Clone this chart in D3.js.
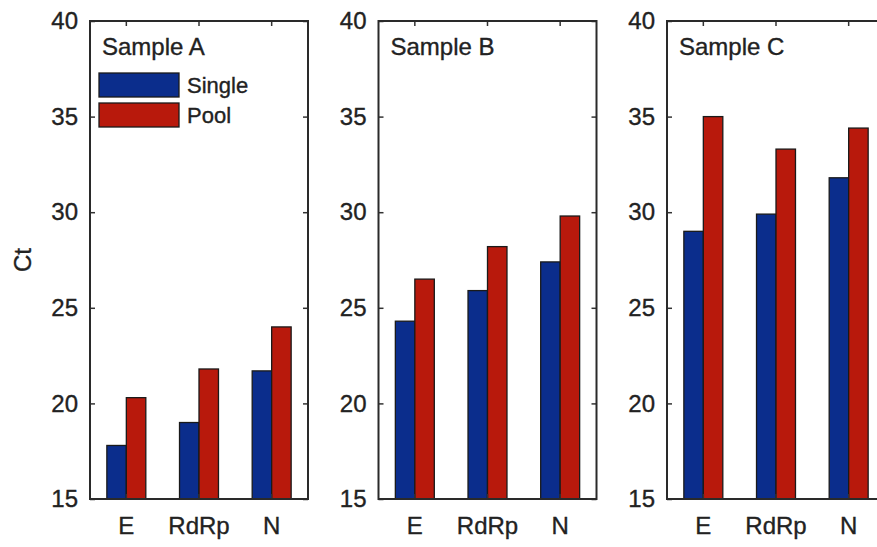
<!DOCTYPE html>
<html>
<head>
<meta charset="utf-8">
<script src="https://cdn.jsdelivr.net/npm/d3@7"></script>
<style>
  body { margin: 0; background: #fff; }
  svg text { font-family: "Liberation Sans", Arial, sans-serif; fill: #222; stroke: #222; stroke-width: 0.35px; }
</style>
</head>
<body>
<svg width="877" height="547"></svg>
<script>
// chart data
var categories = ["E", "RdRp", "N"];
var samples = ["Sample A", "Sample B", "Sample C"];
var series = ["Single", "Pool"];
var singleCt = [[17.8, 19.0, 21.7], [24.3, 25.9, 27.4], [29.0, 29.9, 31.8]];
var poolCt = [[20.3, 21.8, 24.0], [26.5, 28.2, 29.8], [35.0, 33.3, 34.4]];
var yTicks = [15, 20, 25, 30, 35, 40];

var colors = { Single: "#0b2d8c", Pool: "#b8190c" };

var svg = d3.select("svg");

// note: "top" is taken by window.top, so plotTop
var plotTop = 21, plotBottom = 499, panelW = 218, panelStep = 288.5, left0 = 90;

var y = d3.scaleLinear().domain([15, 40]).range([plotBottom, plotTop]);
var x = d3.scaleBand().domain(categories).range([0, panelW]).padding(0);
var xs = d3.scaleBand().domain(series).range([0, x.bandwidth()]).paddingInner(0).paddingOuter(0.865);

samples.forEach(function(name, p) {
    var g = svg.append("g").attr("transform", "translate(" + (left0 + p * panelStep) + ",0)");

    var rows = categories.map(function(c, i) {
        return { cat: c, Single: singleCt[p][i], Pool: poolCt[p][i] };
    });

    var groups = g.selectAll(".grp")
        .data(rows)
        .enter()
        .append("g")
        .attr("class", "grp")
        .attr("transform", function(d) { return "translate(" + x(d.cat) + ",0)"; });

    groups.selectAll("rect")
        .data(function(d) { return series.map(function(s) { return { s: s, v: d[s] }; }); })
        .enter()
        .append("rect")
        .attr("x", function(d) { return xs(d.s); })
        .attr("width", xs.bandwidth())
        .attr("y", function(d) { return y(d.v); })
        .attr("height", function(d) { return plotBottom - y(d.v); })
        .attr("fill", function(d) { return colors[d.s]; })
        .attr("stroke", "#1a1a1a")
        .attr("stroke-width", 1.3);

    // axes: ticks point inward like the box style
    var left = g.append("g")
        .call(d3.axisLeft(y).tickValues(yTicks).tickSizeInner(-5).tickSizeOuter(0).tickPadding(12));
    var right = g.append("g").attr("transform", "translate(" + panelW + ",0)")
        .call(d3.axisRight(y).tickValues(yTicks).tickSizeInner(-5).tickSizeOuter(0).tickFormat(""));
    var topAx = g.append("g").attr("transform", "translate(0," + plotTop + ")")
        .call(d3.axisTop(x).tickSizeInner(-5).tickSizeOuter(0).tickFormat(""));
    var botAx = g.append("g").attr("transform", "translate(0," + plotBottom + ")")
        .call(d3.axisBottom(x).tickSizeInner(-5).tickSizeOuter(0).tickPadding(18));

    [left, right, topAx, botAx].forEach(function(a) {
        a.select(".domain").remove();
        a.selectAll("line").attr("stroke", "#333").attr("stroke-width", 1.5);
        a.selectAll("text").attr("font-size", 24).attr("fill", "#222");
    });

    g.append("rect")
        .attr("x", 0).attr("y", plotTop)
        .attr("width", panelW).attr("height", plotBottom - plotTop)
        .attr("fill", "none")
        .attr("stroke", "#2a2a2a")
        .attr("stroke-width", 2);

    g.append("text")
        .attr("x", 12)
        .attr("y", 55)
        .attr("font-size", 24)
        .text(name);

    if (p == 0) {
        var leg = g.selectAll(".leg")
            .data(series)
            .enter()
            .append("g")
            .attr("class", "leg")
            .attr("transform", function(d, i) { return "translate(9," + (73 + i * 30) + ")"; });
        leg.append("rect")
            .attr("width", 80)
            .attr("height", 24)
            .attr("fill", function(d) { return colors[d]; })
            .attr("stroke", "#1a1a1a")
            .attr("stroke-width", 1.3);
        leg.append("text")
            .attr("x", 88)
            .attr("y", 12)
            .attr("dy", "0.35em")
            .attr("font-size", 22)
            .text(function(d) { return d; });
    }
});

svg.append("text")
    .attr("transform", "translate(31,260) rotate(-90)")
    .attr("text-anchor", "middle")
    .attr("font-size", 24)
    .text("Ct");
</script>
</body>
</html>
